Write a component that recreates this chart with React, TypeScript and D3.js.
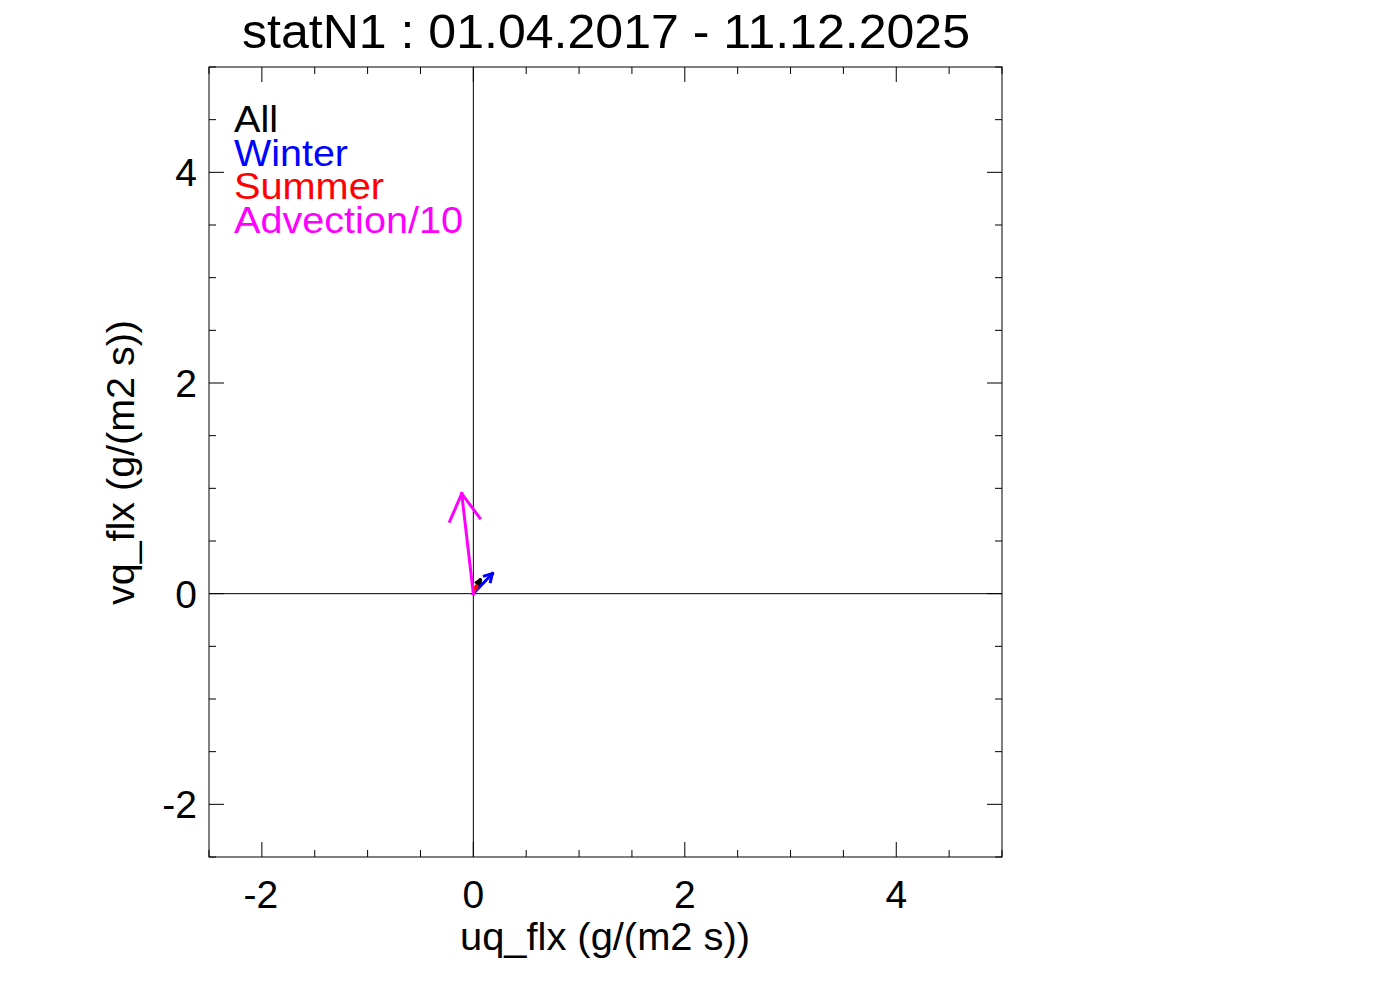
import React, { useEffect } from "react";
import * as d3 from "d3";

const W = 1388;
const H = 992;

const title = "statN1 : 01.04.2017 - 11.12.2025";
const xLabel = "uq_flx (g/(m2 s))";
const yLabel = "vq_flx (g/(m2 s))";

const xDomain = [-2.5, 5];
const yDomain = [-2.5, 5];
const majorTicks = [-2, 0, 2, 4];
const minorTicks = [-2.5, -2, -1.5, -1, -0.5, 0, 0.5, 1, 1.5, 2, 2.5, 3, 3.5, 4, 4.5, 5];

const seriesNames = ["All", "Winter", "Summer", "Advection/10"];
const seriesColors = ["#000000", "#0000ff", "#ff0000", "#ff00ff"];
const seriesU = [0.065, 0.18, 0.03, -0.11];
const seriesV = [0.13, 0.19, 0.07, 0.95];
const legendLengths = [44, 114, 150, 229];

export default function App() {
  useEffect(() => {
    document.body.style.margin = "0";
  }, []);

  const m = { left: 209, right: 1002, top: 67, bottom: 857 };
  const x = d3.scaleLinear().domain(xDomain).range([m.left, m.right]);
  const y = d3.scaleLinear().domain(yDomain).range([m.bottom, m.top]);
  const font = "'Liberation Sans', Arial, Helvetica, sans-serif";

  const arrows = seriesNames.map((name, i) => {
    const x0 = x(0), y0 = y(0);
    const x1 = x(seriesU[i]), y1 = y(seriesV[i]);
    const dx = x1 - x0, dy = y1 - y0;
    const len = Math.sqrt(dx * dx + dy * dy);
    const hl = len * 0.3;
    const ang = Math.atan2(y0 - y1, x0 - x1);
    const a = (30 * Math.PI) / 180;
    const b1 = [x1 + hl * Math.cos(ang + a), y1 + hl * Math.sin(ang + a)];
    const b2 = [x1 + hl * Math.cos(ang - a), y1 + hl * Math.sin(ang - a)];
    return { name, color: seriesColors[i], x0, y0, x1, y1, b1, b2 };
  });

  return (
    <svg width={W} height={H} style={{ display: "block", background: "#fff" }}>
      <rect x={0} y={0} width={W} height={H} fill="#fff" />
      <line x1={x(0)} x2={x(0)} y1={m.top} y2={m.bottom} stroke="#000" strokeWidth={1} />
      <line x1={m.left} x2={m.right} y1={y(0)} y2={y(0)} stroke="#000" strokeWidth={1} />
      <rect x={m.left} y={m.top} width={m.right - m.left} height={m.bottom - m.top} fill="none" stroke="#000" strokeWidth={1} />
      {minorTicks.map((t) => {
        const major = majorTicks.includes(t);
        const L = major ? 15 : 7;
        return (
          <g key={"t" + t}>
            <line x1={x(t)} x2={x(t)} y1={m.bottom} y2={m.bottom - L} stroke="#000" />
            <line x1={x(t)} x2={x(t)} y1={m.top} y2={m.top + L} stroke="#000" />
            <line x1={m.left} x2={m.left + L} y1={y(t)} y2={y(t)} stroke="#000" />
            <line x1={m.right} x2={m.right - L} y1={y(t)} y2={y(t)} stroke="#000" />
          </g>
        );
      })}
      {majorTicks.map((t) => (
        <text key={"xl" + t} x={x(t) + (t < 0 ? -1 : 0)} y={908} fontFamily={font} fontSize={39} textAnchor="middle">
          {t}
        </text>
      ))}
      {majorTicks.map((t) => (
        <text key={"yl" + t} x={197} y={y(t) + 14} fontFamily={font} fontSize={39} textAnchor="end">
          {t}
        </text>
      ))}
      <text x={460} y={950} fontFamily={font} fontSize={38} textLength={290} lengthAdjust="spacingAndGlyphs">
        {xLabel}
      </text>
      <text
        transform={`translate(134,605) rotate(-90)`}
        fontFamily={font}
        fontSize={38}
        textLength={285}
        lengthAdjust="spacingAndGlyphs"
      >
        {yLabel}
      </text>
      <text x={242} y={48} fontFamily={font} fontSize={48} textLength={728} lengthAdjust="spacingAndGlyphs">
        {title}
      </text>
      {seriesNames.map((n, i) => (
        <text
          key={"lg" + n}
          x={234}
          y={132 + i * 33.6}
          fontFamily={font}
          fontSize={37}
          fill={seriesColors[i]}
          textLength={legendLengths[i]}
          lengthAdjust="spacingAndGlyphs"
        >
          {n}
        </text>
      ))}
      {arrows.map((a) => (
        <g key={"a" + a.name} stroke={a.color} strokeWidth={3} fill="none" strokeLinecap="square">
          <line x1={a.x0} y1={a.y0} x2={a.x1} y2={a.y1} />
          <line x1={a.x1} y1={a.y1} x2={a.b1[0]} y2={a.b1[1]} />
          <line x1={a.x1} y1={a.y1} x2={a.b2[0]} y2={a.b2[1]} />
        </g>
      ))}
    </svg>
  );
}
